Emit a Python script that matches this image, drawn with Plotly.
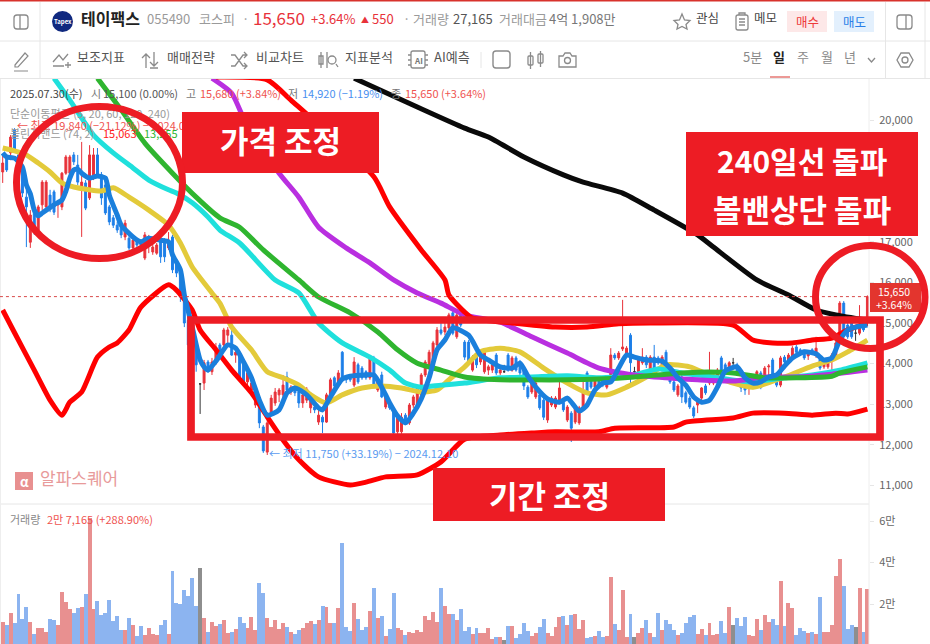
import plotly.graph_objects as go

OPEN = [
18720,19060,19190,19750,19140,18840,18100,16990,17780,17290,
17910,17860,18150,18230,17910,17860,18690,18690,19140,18890,
18330,18450,18080,18600,19140,18650,18400,17860,17590,17410,
17360,17120,17090,16850,17040,17000,16600,16970,16750,16720,
17040,17040,16850,17120,16480,16230,15740,15070,14580,14460,
13500,13520,14040,13800,14090,14460,14460,14700,14700,14210,
14260,14090,13550,13350,12980,13150,12440,11820,12780,13030,
13230,13230,13670,13300,13400,13300,13030,13100,12910,12930,
12560,12680,12560,13180,13650,13470,14280,13670,13670,13470,
13970,13890,13800,13650,14140,13350,13720,12930,13050,12860,
12320,12320,12730,12540,12980,12980,13230,13720,13920,14090,
14460,14830,14780,14880,15250,14660,15200,14530,14530,13840,
14160,14040,13800,13840,13840,14210,13770,13800,14210,13840,
14140,14040,13840,13420,13300,13180,13230,13100,12610,12980,
12930,13050,13050,12610,12780,12560,12540,12910,13770,13600,
13420,13570,13600,13420,13720,14210,14140,14360,14260,14700,
13800,13770,14020,14160,13800,14160,14140,13840,14280,13720,
13550,13230,13670,13280,13150,12910,12980,13150,13450,13520,
13520,13550,14140,13970,13840,14020,13970,13550,13420,13400,
13420,13520,13770,13600,13920,14090,13720,13470,14160,14040,
14140,14410,14340,14280,14190,14340,14260,14160,13920,13920,
14090,14210,14510,15490,14950,15000,14750,14750,15000,15100]
CLOSE = [
18940,18770,19580,19260,18890,18200,17860,17660,17290,17860,
18470,18470,17860,17730,17980,18690,19090,19090,18970,18470,
18470,17830,19140,19140,18650,18080,17710,17490,17410,17290,
17170,17460,16850,17040,16920,16920,17170,17040,16870,16920,
16630,16630,17040,16310,16230,15640,15000,14460,14090,13970,
13500,14020,13840,14040,14410,14260,14830,14830,14210,14280,
13670,13550,13770,13520,13180,12540,11850,12540,13150,13300,
13350,13470,13350,13420,13280,13030,13230,13370,13230,12860,
12730,12560,13230,13600,13450,13770,13670,13600,13600,14040,
13550,13650,13650,14140,13470,13600,13180,13180,12910,12290,
12680,12680,12540,12980,13180,13400,13720,14040,14280,14510,
14830,14750,14900,15200,14750,15200,14950,14160,14020,14160,
13970,14160,14280,13920,13970,13770,13840,13800,13840,14140,
13840,13770,13450,13180,13520,13520,12910,12680,13150,13150,
13150,13400,12860,12930,12410,12910,12910,13350,13300,13420,
13600,13470,13470,13600,14210,14140,14260,14410,14380,14020,
13800,14090,14160,13970,14160,13890,14020,14160,13770,13550,
13350,13450,13180,13050,12930,12710,13100,13400,13280,13600,
13670,13840,13600,13800,14020,14020,13800,13400,13350,13450,
13550,13800,13420,13890,13940,13720,13470,14140,14040,14210,
14380,14280,14260,14140,14260,14260,14380,13890,14020,14040,
14210,14510,15490,14830,14660,14660,14750,14950,14830,15650]
HIGH = [
19140,19110,19630,19800,19190,18890,18280,17780,17910,17910,
18520,18520,18280,18280,18030,18720,19140,19140,19210,19140,
19460,18520,19380,19310,19310,18720,18520,17910,17660,17490,
17410,17540,17170,17120,17090,17040,17240,17170,16970,16970,
17090,17090,17240,17170,16550,16310,15810,15200,14700,14580,
13520,14090,14090,14140,14510,14510,14880,14900,14950,14310,
14310,14140,13890,13600,13280,13230,12490,12610,13230,13400,
13400,13720,13800,13470,13470,13350,13280,13420,13300,12980,
12930,12730,13280,13650,13690,13840,14310,13720,13720,14160,
14020,13940,13840,14190,14190,13650,13800,13230,13100,12910,
12730,12780,12780,13030,13230,13470,13770,14090,14340,14560,
14900,15000,15070,15250,15320,15270,15250,14580,14580,14210,
14210,14210,14340,13970,14020,14260,13890,13970,14260,14190,
14190,14090,13890,13470,13570,13570,13280,13150,13200,13200,
13200,13600,13100,12980,12830,12960,12960,13600,13820,13650,
13650,13620,13650,13650,14380,14260,14310,15570,14430,14750,
13920,14140,14380,14210,14210,14460,14190,14210,14340,13770,
13600,13500,13720,13330,13200,12960,13150,13420,13500,14290,
13720,13890,14190,14020,14060,14140,14020,13600,13470,13500,
13600,13840,13820,13940,13990,14140,13770,14190,14210,14260,
14430,14460,14380,14340,14310,14380,14660,14210,14060,14090,
14260,14560,15540,15540,15000,15050,14950,15440,15050,15680]
LOW = [
18450,18720,19010,19210,18820,18100,16870,16850,17170,17240,
17780,17780,17730,17660,17590,17780,18650,18650,18890,18400,
17120,17780,18030,18520,18570,17910,17660,17410,17340,17220,
17090,17040,16800,16800,16800,16870,16550,16720,16680,16680,
16480,16500,16800,16230,16130,15520,14900,14340,13970,13800,
12760,13350,13770,13720,13970,14140,14410,14510,14190,14020,
13600,13470,13470,13230,12910,12410,11800,11750,12710,12960,
13050,13150,13300,13230,13200,12910,12910,13030,12780,12780,
12490,12290,12540,13130,13400,13420,13620,13520,13550,13420,
13500,13600,13600,13600,13400,13300,13150,12880,12860,12240,
12270,12270,12490,12490,12910,12930,13180,13670,13870,14040,
14410,14700,14700,14830,14700,14610,14900,14090,13970,13800,
13890,13970,13750,13720,13770,13720,13720,13770,13800,13800,
13800,13720,13350,13130,13250,13130,12860,12610,12540,12930,
12880,13000,12810,12560,12070,12510,12490,12860,13250,13370,
13370,13420,13420,13370,13670,14090,14090,14310,14210,13520,
13770,13720,13970,13890,13750,13840,13970,13800,13720,13500,
13300,13180,13030,13000,12880,12660,12780,13100,13230,13470,
13470,13500,13550,13750,13800,13920,13750,13300,13230,13230,
13370,13470,13370,13550,13670,13670,13420,13420,13990,13990,
14090,14240,14210,14090,14090,14210,14140,13840,13870,13870,
13800,14160,14460,14780,14610,14610,14560,14700,14780,14920]
VOLUME = [
11480,9880,15500,10680,24810,12770,18710,11480,5380,8430,
8430,6660,12770,12290,9880,25780,20960,17590,15500,17910,
18390,24810,61270,17590,21440,14690,15820,21920,11960,14210,
7470,7470,13090,9720,4580,9230,5060,8430,5380,5060,
9720,12290,5540,35730,20480,19990,26580,24010,32520,18870,
37340,13250,6340,11320,9230,10200,12290,6180,6660,7950,
13570,11000,8430,13570,7630,30110,25290,13250,8910,12290,
7950,11000,8910,6660,5380,7470,8430,11000,11800,10200,
12290,18870,18390,11000,11000,17910,49220,8910,7150,20480,
12770,7470,8910,16620,27540,13250,14050,4580,7950,25290,
8430,7470,4900,6660,6180,7470,6660,14050,12290,16140,
11480,27540,18870,15340,15340,12290,17590,7150,8910,5380,
8430,5860,5860,8430,3130,4100,4100,2650,9230,9230,
3610,5380,11000,7150,4580,5860,8910,12770,5860,4580,
8910,13570,14050,9720,14860,15340,7950,12290,3610,4100,
4580,7150,4100,4580,33000,10520,7470,26580,4100,15340,
4100,6180,8430,12290,6180,4100,15820,7470,12290,10520,
7470,4900,6180,11000,13570,14860,5380,7950,4900,11000,
4900,5380,11800,5860,18390,10040,13090,9230,13570,4900,
4420,12770,7470,14860,11480,12770,10040,30920,9230,20320,
17910,4900,8430,7150,6180,6660,5380,23530,6660,6660,
10040,33480,41520,28670,7950,10040,8910,27860,6660,27165]

MA_BLUE_DAY = [0,1,3,5,6,7,8,9,10,13,15,16,17,18,19,20,22,24,26,27,29,30,33,35,37,40,42,43,45,46,48,50,51,52,54,57,59,61,63,65,67,70,72,74,77,80,81,83,86,88,92,94,96,98,100,102,104,106,108,110,112,114,118,121,123,126,129,131,133,135,138,141,143,146,148,150,152,154,156,158,160,163,167,169,171,173,175,177,179,181,183,186,188,190,192,194,196,198,200,203,206,208,210,212,214,216,219]
MA_BLUE = [19190,19090,19060,18840,18400,18180,17780,17640,17710,17910,18030,18250,18570,18770,18790,18690,18570,18620,18570,18150,17660,17410,17120,17000,17090,17040,17000,16680,16310,15690,14900,14090,13920,13840,14060,14460,14380,14040,13650,13100,12730,12860,13280,13400,13230,12910,12860,13180,13620,13690,13720,13720,13420,13030,12710,12540,12780,13130,13650,14340,14580,14880,14700,14210,14090,13920,13890,14010,13690,13420,13130,13050,13150,12830,12980,13350,13520,13550,13890,14210,14160,14090,14060,13890,13650,13470,13180,13050,13100,13420,13820,13920,13650,13520,13550,13670,13720,13940,14140,14290,14240,14090,14140,14580,14830,14900,14950]

MA_YELLOW_DAY = [0,3,6,9,12,15,18,25,28,32,37,42,45,48,53,55,58,63,67,71,75,78,82,86,91,96,101,106,110,113,117,121,126,131,137,143,148,153,158,163,168,174,179,184,190,198,205,210,214,219]
MA_YELLOW = [19310,19240,19140,18940,18720,18450,18350,18250,18330,18100,17780,17410,16970,16380,15740,15490,14900,14340,13800,13650,13470,13230,13030,13230,13400,13450,13400,13300,13350,13600,13920,14290,14380,14290,13890,13520,13280,13230,13420,13670,13970,13920,13720,13550,13420,13670,13940,14090,14290,14580]

MA_CYAN_DAY = [13,17,23,28,33,37,42,44,48,52,55,60,69,75,80,86,93,98,102,106,111,117,126,134,143,151,160,166,172,180,189,198,205,212,219]
MA_CYAN = [21030,20490,19630,19190,18820,18520,18280,18200,17960,17610,17290,16970,16060,15740,15000,14510,14160,13840,13520,13420,13470,13520,13650,13670,13700,13650,13720,13870,13770,13670,13550,13650,13720,13840,14020]

MA_GREEN_DAY = [24,30,36,43,49,55,60,66,75,80,88,95,100,105,111,117,126,134,143,151,160,168,176,185,193,201,210,212,219]
MA_GREEN = [21030,20250,19430,18690,18100,17590,17360,16800,16060,15640,15250,14780,14340,14010,13840,13670,13600,13600,13600,13620,13670,13740,13790,13770,13650,13650,13690,13770,13920]

MA_PURPLE_DAY = [53,58,62,70,75,80,87,93,99,105,111,117,126,134,143,151,160,168,176,185,193,201,210,219]
MA_PURPLE = [21030,20660,19830,18690,18100,17360,16850,16480,16060,15740,15490,15200,15020,14660,14260,13890,13720,13650,13600,13570,13670,13670,13740,13840]

MA_BLACK_DAY = [89,105,117,123,132,142,147,157,165,176,180,191,199,206,211,219]
MA_BLACK = [21030,20320,19800,19580,19090,18650,18470,18200,17780,17170,16870,16060,15690,15320,15200,15070]

BAND_UPPER_DAY = [54,67,73,94,98,106,112,113,117,119,129,140,148,156,164,185,190,195,200,205,210,214,219]
BAND_UPPER = [21060,20990,20490,18600,17860,16800,16060,15690,15270,15120,15000,14900,14900,14980,15000,14950,14580,14510,14510,14580,14630,14830,15000]

BAND_LOWER_DAY = [0,3,8,12,15,17,20,24,27,29,32,35,42,44,48,50,54,58,63,67,71,75,80,88,92,97,105,111,117,126,134,140,151,155,170,173,185,190,198,205,211,214,219]
BAND_LOWER = [15320,14760,13840,13100,12730,13050,13300,14160,14410,14510,14830,15390,15940,15810,15320,14830,14340,13840,13280,12690,12120,11630,11210,11010,11080,11210,11260,11580,12140,12240,12290,12320,12320,12410,12440,12560,12660,12780,12780,12730,12780,12760,12880]

PRICE_TICKS = [11000,12000,13000,14000,15000,16000,17000,18000,19000,20000]
VOLUME_TICKS = [20000,40000,60000]
VOLUME_TICK_TEXT = ["2만","4만","6만"]
LAST_PRICE = 15650

RED = "#ed1c24"
UP = "#e8323a"
DOWN = "#1d7fe8"
FONT = "Noto Sans CJK KR"

days = list(range(len(OPEN)))
assert all(len(a) == len(days) for a in (CLOSE, HIGH, LOW, VOLUME))

fig = go.Figure()

def candle(keep, color):
    idx = [i for i in days if keep(OPEN[i], CLOSE[i])]
    fig.add_trace(go.Candlestick(
        x=idx, open=[OPEN[i] for i in idx], high=[HIGH[i] for i in idx],
        low=[LOW[i] for i in idx], close=[CLOSE[i] for i in idx],
        increasing=dict(line=dict(color=color, width=1), fillcolor=color),
        decreasing=dict(line=dict(color=color, width=1), fillcolor=color),
        whiskerwidth=0, showlegend=False, hoverinfo="skip", xaxis="x", yaxis="y"))

candle(lambda o, c: c > o, UP)
candle(lambda o, c: c < o, DOWN)
candle(lambda o, c: c == o, "#333333")

def line(x, y, color):
    fig.add_trace(go.Scatter(x=x, y=y, mode="lines", hoverinfo="skip", showlegend=False,
                             line=dict(color=color, width=5, shape="spline", smoothing=0.6),
                             xaxis="x", yaxis="y"))

line(MA_YELLOW_DAY, MA_YELLOW, "#e3ca3a")
line(MA_CYAN_DAY, MA_CYAN, "#1fe0dc")
line(MA_PURPLE_DAY, MA_PURPLE, "#b92fe0")
line(MA_GREEN_DAY, MA_GREEN, "#2fb52f")
line(MA_BLACK_DAY, MA_BLACK, "#0a0a0a")
line(BAND_UPPER_DAY, BAND_UPPER, "#ff0000")
line(BAND_LOWER_DAY, BAND_LOWER, "#ff0000")
line(MA_BLUE_DAY, MA_BLUE, "#1a7fdc")

vol_colors = ["#e89090" if CLOSE[i] > OPEN[i] else "#8cb4f0" if CLOSE[i] < OPEN[i] else "#8e8e8e" for i in days]
fig.add_trace(go.Bar(x=days, y=VOLUME, marker=dict(color=vol_colors, line=dict(width=0)),
                     hoverinfo="skip", showlegend=False, xaxis="x", yaxis="y2"))

# page text (x px, y px, text, size, colour, bold)
TEXTS = [
    (81, 21, "테이팩스", 16, "#222222", True),
    (147, 21, "055490", 13, "#9a9a9a", False),
    (199, 21, "코스피", 13, "#9a9a9a", False),
    (242, 21, "·", 13, "#9a9a9a", False),
    (253, 21, "15,650", 17, UP, False),
    (311, 21, "+3.64%", 13, UP, False),
    (361, 21, "▲", 8, UP, False),
    (372, 21, "550", 13, UP, False),
    (403, 21, "·", 13, "#9a9a9a", False),
    (413, 21, "거래량", 13, "#9a9a9a", False),
    (453, 21, "27,165", 13, "#555555", False),
    (499, 21, "거래대금", 13, "#9a9a9a", False),
    (549, 21, "4억 1,908만", 13, "#777777", False),
    (696, 20, "관심", 12.5, "#444444", False),
    (754, 20, "메모", 12.5, "#444444", False),
    (77, 59, "보조지표", 13, "#555555", False),
    (167, 59, "매매전략", 13, "#555555", False),
    (256, 59, "비교차트", 13, "#555555", False),
    (345, 59, "지표분석", 13, "#555555", False),
    (434, 59, "AI예측", 13, "#555555", False),
    (743, 59, "5분", 13, "#8a8a8a", False),
    (773, 59, "일", 13, "#222222", True),
    (797, 59, "주", 13, "#8a8a8a", False),
    (821, 59, "월", 13, "#8a8a8a", False),
    (844, 59, "년", 13, "#8a8a8a", False),
    (10, 95, "2025.07.30(수)", 11, "#444444", False),
    (91, 95, "시", 11, "#777777", False),
    (103, 95, "15,100 (0.00%)", 11, "#555555", False),
    (186, 95, "고", 11, "#777777", False),
    (200, 95, "15,680 (+3.84%)", 11, "#ef5350", False),
    (288, 95, "저", 11, "#777777", False),
    (302, 95, "14,920 (−1.19%)", 11, "#4a90f0", False),
    (391, 95, "종", 11, "#777777", False),
    (405, 95, "15,650 (+3.64%)", 11, "#ef5350", False),
    (10, 115, "단순이동평균 (5, 20, 60, 120, 240)", 11, "#999999", False),
    (17, 127, "← 최고 19,840 (−21.12%) − 2024.09", 11, "#ef5350", False),
    (10, 135, "볼린저밴드 (74, 2)", 11, "#999999", False),
    (103, 135, "15,063", 11, "#ff2020", False),
    (144, 135, "13,255", 11, "#2fb52f", False),
    (269, 455, "← 최저 11,750 (+33.19%) − 2024.12.10", 11, "#5b9bf0", False),
    (40, 481, "알파스퀘어", 17, "#e89a9a", False),
    (10, 521, "거래량", 11, "#888888", False),
    (47, 521, "2만 7,165 (+288.90%)", 11, "#ef5350", False),
]
fig.add_trace(go.Scatter(
    x=[t[0] for t in TEXTS], y=[t[1] for t in TEXTS],
    text=[f"<b>{t[2]}</b>" if t[5] else t[2] for t in TEXTS],
    mode="text", textposition="middle right", hoverinfo="skip", showlegend=False,
    textfont=dict(family=FONT, size=[t[3] for t in TEXTS], color=[t[4] for t in TEXTS]),
    xaxis="x3", yaxis="y3"))

def rr(x0, y0, x1, y1, r):
    return (f"M{x0+r} {y0} H{x1-r} Q{x1} {y0} {x1} {y0+r} V{y1-r} Q{x1} {y1} {x1-r} {y1} "
            f"H{x0+r} Q{x0} {y1} {x0} {y1-r} V{y0+r} Q{x0} {y0} {x0+r} {y0} Z")

shapes = []
def sline(x0, y0, x1, y1, color="#e6e6e6", w=1):
    shapes.append(dict(type="line", xref="x3", yref="y3", x0=x0, y0=y0, x1=x1, y1=y1,
                       line=dict(color=color, width=w), layer="below"))
def icon(path, color="#8a8a8a", w=1.3, fill=None):
    shapes.append(dict(type="path", xref="x3", yref="y3", path=path,
                       line=dict(color=color, width=w), fillcolor=fill or "rgba(0,0,0,0)", layer="above"))
def ring(cx, cy, r, color="#8a8a8a", w=1.3):
    shapes.append(dict(type="circle", xref="x3", yref="y3", x0=cx-r, y0=cy-r, x1=cx+r, y1=cy+r,
                       line=dict(color=color, width=w), layer="above"))
def box(x0, y0, x1, y1, fill):
    shapes.append(dict(type="rect", xref="x3", yref="y3", x0=x0, y0=y0, x1=x1, y1=y1,
                       fillcolor=fill, line=dict(width=0), layer="above"))

box(0, 0, 930, 1.5, "#d8322c")
sline(0, 41, 930, 41); sline(0, 78.5, 930, 78.5); sline(0, 504, 869, 504)
sline(40, 2, 40, 78); sline(885.5, 2, 885.5, 78); sline(925, 2, 925, 78)
sline(869, 79, 869, 644, "#eeeeee"); sline(0.5, 79, 0.5, 644, "#eeeeee")
sline(481, 52, 481, 68)
# header icons
icon(rr(14, 15, 28, 29, 3) + " M20 15 V29")
icon(rr(897, 15, 912, 29, 3) + " M906 15 V29")
shapes.append(dict(type="circle", xref="x3", yref="y3", x0=52, y0=11, x1=73, y1=32,
                   fillcolor="#10297f", line=dict(width=0), layer="above"))
icon("M682 14 L684.5 20 L690 20.5 L686 24.5 L687 29 L682 26.5 L677 29 L678 24.5 L674 20.5 L679.5 20 Z")
icon(rr(736, 15, 748, 30, 2) + " M739 19 H745 M739 22 H745 M739 25 H745 M739 15 V13 H745 V15")
box(787, 11, 827, 32, "#fde8e8"); box(834, 11, 874, 32, "#e3f0fd")
# toolbar icons
icon("M15 65 L25 53 L28 56 L18 67 L15 67 Z M14 71 H28", w=1.2)
icon("M53 62 L59 55 L63 60 L68 54 M53 66 H64 M68 62 V68 M65 65 H71")
icon("M146 68 V54 M142 58 L146 54 L150 58 M154 52 V66 M150 62 L154 66 L158 62 M150 68 H158")
icon("M231 55 H235 L243 66 H247 M231 66 H235 L243 55 H247 M244 52 L247 55 L244 58 M244 63 L247 66 L244 69")
icon("M321 52 V68 M319 56 H323 V64 H319 Z M327 52 V68 M336 64 L338 67")
ring(332, 60, 4)
icon(rr(411, 51, 425, 68, 2) + " M408 55 H411 M408 60 H411 M408 65 H411 M425 55 H428 M425 60 H428 M425 65 H428")
icon(rr(493, 51, 510, 68, 3), w=1.4)
icon(rr(528, 56, 533, 65, 1) + " M530.5 52 V69 " + rr(538, 54, 543, 63, 1) + " M540.5 51 V67")
icon("M559 56 H563 L565 53 H570 L572 56 H576 V67 H559 Z")
ring(567.5, 60.5, 3)
icon("M868 58 L871.5 62 L875 58")
icon("M901 53 H909 L913 60 L909 67 H901 L897 60 Z")
ring(905, 60, 3)
box(770, 76.5, 790, 77.5, "#d8322c")
box(15, 472, 33, 490, "#e89090")
# last-price tag
box(870, 283, 921, 312, "#e3352e")
shapes.append(dict(type="line", xref="x", yref="y", x0=-0.7, x1=219.4, y0=LAST_PRICE, y1=LAST_PRICE,
                   line=dict(color="#d84a4a", width=1, dash="dot"), layer="above"))
# red overlays drawn on the picture
box(182, 112, 379, 173, RED)
box(686, 132, 918, 236, RED)
box(433, 468, 665, 521, RED)
shapes.append(dict(type="rect", xref="x3", yref="y3", x0=191, y0=320, x1=880, y1=437,
                   line=dict(color=RED, width=7.7), layer="above"))
shapes.append(dict(type="circle", xref="x3", yref="y3", x0=16.5, y0=106.5, x1=182.5, y1=258.5,
                   line=dict(color=RED, width=7), layer="above"))
shapes.append(dict(type="circle", xref="x3", yref="y3", x0=815.5, y0=245.5, x1=925, y1=348.5,
                   line=dict(color=RED, width=7), layer="above"))

def note(x, y, text, size, color="#ffffff", bold=True):
    return dict(xref="x3", yref="y3", x=x, y=y, text=f"<b>{text}</b>" if bold else text, showarrow=False,
                font=dict(family=FONT, size=size, color=color), xanchor="center", yanchor="middle")

annotations = [
    note(280, 139, "가격 조정", 31),
    note(802, 160, "240일선 돌파", 30),
    note(802, 208, "볼밴상단 돌파", 31),
    note(549, 494, "기간 조정", 31),
    note(894, 291, "15,650", 10.5, bold=False),
    note(894, 304, "+3.64%", 10.5, bold=False),
    note(62.5, 21.5, "Tapex", 6, bold=True),
    note(24, 481, "α", 13, bold=True),
    note(418, 60, "AI", 8, "#777777", True),
    note(807, 21, "매수", 12.5, "#ee3a3a", False),
    note(854, 21, "매도", 12.5, "#2a7fe8", False),
]

fig.update_layout(
    width=930, height=644, autosize=False, margin=dict(l=0, r=0, t=0, b=0),
    paper_bgcolor="#ffffff", plot_bgcolor="rgba(0,0,0,0)", showlegend=False, bargap=0,
    font=dict(family=FONT), shapes=shapes, annotations=annotations,
    xaxis=dict(domain=[0, 869/930], range=[-0.684, 219.4], visible=False, rangeslider=dict(visible=False), fixedrange=True, anchor="y"),
    yaxis=dict(domain=[140/644, 565/644], range=[10542, 21010], side="right", anchor="x",
               tickvals=PRICE_TICKS, tickformat=",d", showgrid=False, zeroline=False, showline=False,
               ticks="outside", ticklen=4, tickcolor="#e6e6e6", tickfont=dict(family=FONT, size=11, color="#666666"),
               ticklabelstandoff=3, fixedrange=True),
    yaxis2=dict(domain=[0, 139/644], range=[723, 67720], side="right", anchor="x",
                tickvals=VOLUME_TICKS, ticktext=VOLUME_TICK_TEXT, showgrid=False, zeroline=False, showline=False,
                ticks="outside", ticklen=4, tickcolor="#e6e6e6", tickfont=dict(family=FONT, size=11, color="#666666"),
                ticklabelstandoff=3, fixedrange=True),
    xaxis3=dict(domain=[0, 1], range=[0, 930], visible=False, fixedrange=True, anchor="y3"),
    yaxis3=dict(domain=[0, 1], range=[644, 0], visible=False, fixedrange=True, anchor="x3"),
)

fig.write_html("out.html", config=dict(displayModeBar=False),
               post_script="document.body.style.margin='0';document.body.style.overflow='hidden';")
